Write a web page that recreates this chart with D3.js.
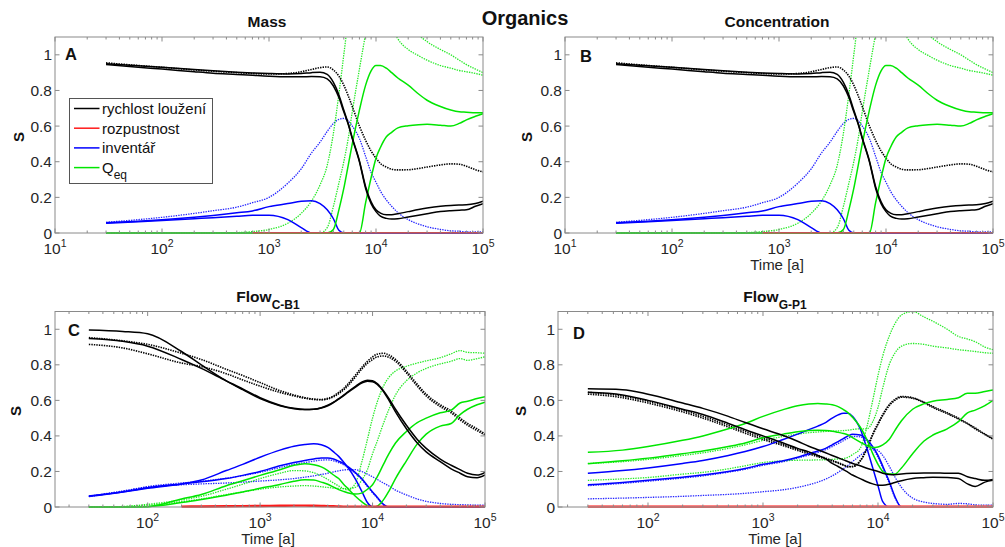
<!DOCTYPE html>
<html lang="cs">
<head>
<meta charset="utf-8">
<title>Organics</title>
<script src="https://cdn.jsdelivr.net/npm/d3@7"></script>
<style>
  body { margin: 0; background: #fff; }
  svg { font-family: "Liberation Sans", Arial, sans-serif; }
</style>
</head>
<body>
<svg id="chart" width="1005" height="547"></svg>
<script>
// time axis shared by every series [a]
const years = [30, 60, 100, 200, 300, 500, 700, 1000, 1500, 2000,
  2500, 3000, 3500, 4000, 4500, 5000, 5500, 6000, 7000, 8000,
  9000, 10000, 11000, 12500, 14000, 16000, 20000, 25000, 30000, 40000,
  50000, 60000, 70000, 85000, 100000];

const yTicks = [0, 0.2, 0.4, 0.6, 0.8, 1];
const yTickLabels = ["0", "0.2", "0.4", "0.6", "0.8", "1"];
const legendNames = ["rychlost loužení", "rozpustnost", "inventář", "Q"];

// --- Mass / Concentration (A, B) ---
const massBlackSolid1 = [0.945, 0.93, 0.92, 0.905, 0.897, 0.89, 0.885, 0.88, 0.877, 0.877,
  0.878, 0.877, 0.865, 0.825, 0.76, 0.68, 0.61, 0.53, 0.40, 0.25,
  0.165, 0.12, 0.095, 0.082, 0.078, 0.08, 0.09, 0.10, 0.108, 0.12,
  0.125, 0.128, 0.13, 0.15, 0.165];
const massBlackSolid2 = [0.95, 0.938, 0.93, 0.917, 0.91, 0.902, 0.898, 0.895, 0.893, 0.895,
  0.9, 0.902, 0.89, 0.845, 0.775, 0.69, 0.615, 0.535, 0.405, 0.26,
  0.175, 0.13, 0.112, 0.103, 0.103, 0.108, 0.12, 0.132, 0.14, 0.15,
  0.155, 0.157, 0.158, 0.165, 0.178];
const massBlackDotted = [0.955, 0.94, 0.93, 0.915, 0.908, 0.9, 0.895, 0.892, 0.895, 0.905,
  0.918, 0.928, 0.932, 0.915, 0.88, 0.83, 0.77, 0.71, 0.6, 0.52,
  0.46, 0.42, 0.39, 0.37, 0.358, 0.354, 0.355, 0.362, 0.37, 0.382,
  0.388, 0.386, 0.375, 0.355, 0.343];
const massBlueSolid1 = [0.058, 0.066, 0.074, 0.088, 0.098, 0.113, 0.124, 0.148, 0.165, 0.178,
  0.181, 0.165, 0.13, 0.08, 0.015, 0, 0, 0, 0, 0,
  0, 0, 0, 0, 0, 0, 0, 0, 0, 0,
  0, 0, 0, 0, 0];
const massBlueSolid2 = [0.055, 0.063, 0.07, 0.08, 0.086, 0.094, 0.099, 0.1, 0.075, 0.03,
  0, 0, 0, 0, 0, 0, 0, 0, 0, 0,
  0, 0, 0, 0, 0, 0, 0, 0, 0, 0,
  0, 0, 0, 0, 0];
const massBlueDotted = [0.06, 0.075, 0.088, 0.11, 0.125, 0.145, 0.17, 0.2, 0.28, 0.36,
  0.45, 0.51, 0.57, 0.615, 0.638, 0.643, 0.63, 0.6, 0.53, 0.43,
  0.34, 0.285, 0.235, 0.185, 0.15, 0.115, 0.075, 0.05, 0.035, 0.02,
  0.012, 0.01, 0.006, 0.006, 0.006];
const massGreenSolid1 = [0, 0, 0, 0, 0, 0, 0, 0, 0, 0,
  0, 0, 0, 0.02, 0.13, 0.25, 0.38, 0.5, 0.69, 0.83,
  0.91, 0.94, 0.94, 0.925, 0.9, 0.87, 0.83, 0.78, 0.745, 0.71,
  0.69, 0.68, 0.678, 0.675, 0.675];
const massGreenSolid2 = [0, 0, 0, 0, 0, 0, 0, 0, 0, 0,
  0, 0, 0, 0, 0, 0, 0, 0, 0, 0.17,
  0.31, 0.42, 0.48, 0.54, 0.565, 0.59, 0.602, 0.608, 0.61, 0.605,
  0.6, 0.615, 0.635, 0.655, 0.67];
const massGreenDotted1 = [0, 0, 0, 0, 0, 0.002, 0.008, 0.02, 0.055, 0.11,
  0.18, 0.27, 0.38, 0.56, 0.78, 1.0, 1.2, 1.35, 1.5, 1.5,
  1.5, 1.5, 1.5, 1.5, 1.16, 1.09, 1.03, 0.995, 0.97, 0.94,
  0.925, 0.912, 0.905, 0.895, 0.886];
const massGreenDotted2 = [0, 0, 0, 0, 0, 0, 0, 0, 0, 0,
  0, 0, 0.03, 0.15, 0.28, 0.40, 0.53, 0.68, 0.92, 1.12,
  1.3, 1.5, 1.5, 1.5, 1.5, 1.5, 1.35, 1.12, 1.075, 1.03,
  1.0, 0.97, 0.945, 0.92, 0.9];
const massRed = [null, null, null, null, null, null, 0.002, 0.002, 0.002, 0.002,
  0.002, 0.002, 0.002, 0.002, 0.002, 0.002, 0.002, 0.002, 0.002, 0.002,
  0.002, 0.002, 0.002, 0.002, 0.002, 0.002, 0.002, 0.002, 0.002, 0.002,
  0.002, 0.002, 0.002, 0.002, 0.002];

// --- Flow C-B1 (C) ---
const flowCBlackSolid1 = [0.996, 0.988, 0.975, 0.875, 0.80, 0.71, 0.66, 0.61, 0.57, 0.553,
  0.548, 0.55, 0.558, 0.573, 0.59, 0.61, 0.628, 0.647, 0.678, 0.702,
  0.713, 0.71, 0.695, 0.655, 0.61, 0.55, 0.46, 0.38, 0.33, 0.27,
  0.235, 0.21, 0.19, 0.18, 0.195];
const flowCBlackSolid2 = [0.948, 0.932, 0.905, 0.83, 0.78, 0.71, 0.665, 0.615, 0.573, 0.555,
  0.549, 0.55, 0.557, 0.57, 0.588, 0.607, 0.625, 0.643, 0.673, 0.697,
  0.708, 0.705, 0.69, 0.65, 0.6, 0.535, 0.44, 0.36, 0.31, 0.255,
  0.215, 0.19, 0.17, 0.165, 0.18];
const flowCBlackDotted1 = [0.953, 0.935, 0.915, 0.865, 0.83, 0.775, 0.74, 0.70, 0.655, 0.63,
  0.615, 0.607, 0.605, 0.612, 0.625, 0.645, 0.665, 0.69, 0.74, 0.785,
  0.82, 0.845, 0.86, 0.865, 0.855, 0.83, 0.765, 0.69, 0.635, 0.575,
  0.54, 0.5, 0.47, 0.44, 0.41];
const flowCBlackDotted2 = [0.915, 0.895, 0.862, 0.81, 0.79, 0.75, 0.715, 0.68, 0.645, 0.625,
  0.612, 0.605, 0.603, 0.608, 0.62, 0.638, 0.658, 0.68, 0.73, 0.775,
  0.808, 0.83, 0.845, 0.85, 0.842, 0.82, 0.755, 0.68, 0.625, 0.565,
  0.53, 0.49, 0.46, 0.43, 0.405];
const flowCBlueSolid1 = [0.062, 0.085, 0.105, 0.13, 0.152, 0.205, 0.24, 0.28, 0.32, 0.342,
  0.352, 0.356, 0.35, 0.335, 0.31, 0.285, 0.255, 0.225, 0.16, 0.09,
  0.025, 0, 0, 0, 0, 0, 0, 0, 0, 0,
  0, 0, 0, 0, 0];
const flowCBlueSolid2 = [0.06, 0.085, 0.108, 0.13, 0.142, 0.16, 0.178, 0.2, 0.232, 0.25,
  0.262, 0.27, 0.276, 0.276, 0.27, 0.258, 0.245, 0.228, 0.195, 0.16,
  0.12, 0.085, 0.055, 0.015, 0, 0, 0, 0, 0, 0,
  0, 0, 0, 0, 0];
const flowCBlueDotted1 = [0.058, 0.088, 0.115, 0.135, 0.145, 0.162, 0.176, 0.195, 0.222, 0.24,
  0.25, 0.258, 0.264, 0.265, 0.26, 0.25, 0.238, 0.222, 0.19, 0.155,
  0.115, 0.08, 0.05, 0.012, 0, 0, 0, 0, 0, 0,
  0, 0, 0, 0, 0];
const flowCBlueDotted2 = [0.06, 0.09, 0.112, 0.125, 0.13, 0.135, 0.14, 0.146, 0.153, 0.16,
  0.168, 0.175, 0.183, 0.19, 0.198, 0.204, 0.208, 0.21, 0.21, 0.2,
  0.185, 0.17, 0.155, 0.135, 0.118, 0.095, 0.068, 0.045, 0.032, 0.02,
  0.015, 0.013, 0.012, 0.01, 0.01];
const flowCGreenSolid1 = [0, 0, 0.002, 0.045, 0.07, 0.12, 0.148, 0.178, 0.21, 0.235,
  0.244, 0.238, 0.226, 0.205, 0.18, 0.16, 0.13, 0.105, 0.062, 0.03,
  0.008, 0, 0.005, 0.04, 0.09, 0.16, 0.26, 0.355, 0.41, 0.455,
  0.47, 0.52, 0.55, 0.575, 0.59];
const flowCGreenSolid2 = [0, 0, 0.002, 0.025, 0.042, 0.066, 0.085, 0.105, 0.127, 0.145,
  0.153, 0.152, 0.14, 0.128, 0.112, 0.098, 0.088, 0.08, 0.073, 0.078,
  0.1, 0.125, 0.17, 0.24, 0.3, 0.36, 0.425, 0.475, 0.5, 0.53,
  0.545, 0.585, 0.595, 0.61, 0.62];
const flowCGreenDotted1 = [0, 0.003, 0.015, 0.04, 0.06, 0.1, 0.128, 0.16, 0.19, 0.205,
  0.203, 0.193, 0.175, 0.155, 0.135, 0.118, 0.104, 0.096, 0.13, 0.25,
  0.38, 0.5, 0.59, 0.68, 0.73, 0.765, 0.792, 0.81, 0.822, 0.84,
  0.862, 0.88, 0.87, 0.868, 0.865];
const flowCGreenDotted2 = [0, 0.002, 0.01, 0.03, 0.045, 0.07, 0.085, 0.1, 0.113, 0.118,
  0.12, 0.118, 0.114, 0.11, 0.106, 0.104, 0.103, 0.104, 0.11, 0.15,
  0.21, 0.3, 0.37, 0.47, 0.55, 0.63, 0.71, 0.755, 0.78, 0.805,
  0.82, 0.835, 0.825, 0.835, 0.845];
const flowCRed = [null, null, null, 0.002, 0.003, 0.004, 0.005, 0.006, 0.007, 0.008,
  0.008, 0.007, 0.006, 0.005, 0.004, 0.003, 0.002, 0.002, 0.002, 0.002,
  0.002, 0.002, 0.002, 0.002, 0.002, 0.002, 0.002, 0.002, 0.002, 0.002,
  0.002, 0.002, 0.002, 0.002, 0.002];

// --- Flow G-P1 (D) ---
const flowGBlackSolid1 = [0.665, 0.66, 0.635, 0.585, 0.555, 0.51, 0.475, 0.44, 0.402, 0.37,
  0.342, 0.322, 0.305, 0.29, 0.277, 0.265, 0.255, 0.245, 0.232, 0.218,
  0.208, 0.2, 0.19, 0.183, 0.182, 0.186, 0.19, 0.192, 0.192, 0.19,
  0.19, 0.17, 0.16, 0.15, 0.155];
const flowGBlackSolid2 = [0.645, 0.63, 0.6, 0.55, 0.52, 0.47, 0.435, 0.4, 0.36, 0.33,
  0.31, 0.29, 0.272, 0.245, 0.228, 0.21, 0.195, 0.18, 0.16, 0.142,
  0.13, 0.123, 0.122, 0.128, 0.138, 0.148, 0.16, 0.165, 0.168, 0.166,
  0.16, 0.13, 0.115, 0.14, 0.15];
const flowGBlackDotted1 = [0.645, 0.625, 0.595, 0.545, 0.51, 0.46, 0.425, 0.39, 0.352, 0.325,
  0.305, 0.29, 0.275, 0.262, 0.25, 0.238, 0.228, 0.228, 0.26, 0.33,
  0.41, 0.47, 0.52, 0.575, 0.605, 0.622, 0.615, 0.59, 0.565, 0.53,
  0.5, 0.47, 0.445, 0.41, 0.385];
const flowGBlackDotted2 = [0.635, 0.615, 0.585, 0.535, 0.5, 0.45, 0.415, 0.38, 0.345, 0.318,
  0.298, 0.283, 0.27, 0.258, 0.247, 0.235, 0.226, 0.227, 0.258, 0.325,
  0.405, 0.465, 0.515, 0.57, 0.6, 0.618, 0.612, 0.588, 0.56, 0.525,
  0.495, 0.468, 0.44, 0.408, 0.382];
const flowGBlueSolid1 = [0.19, 0.205, 0.22, 0.245, 0.262, 0.29, 0.312, 0.34, 0.38, 0.41,
  0.435, 0.455, 0.475, 0.5, 0.518, 0.528, 0.528, 0.51, 0.44, 0.33,
  0.22, 0.12, 0.03, 0, 0, 0, 0, 0, 0, 0,
  0, 0, 0, 0, 0];
const flowGBlueSolid2 = [0.125, 0.138, 0.15, 0.168, 0.18, 0.2, 0.217, 0.24, 0.26, 0.28,
  0.3, 0.315, 0.33, 0.35, 0.368, 0.385, 0.4, 0.41, 0.405, 0.38,
  0.34, 0.29, 0.23, 0.145, 0.06, 0, 0, 0, 0, 0,
  0, 0, 0, 0, 0];
const flowGBlueDotted1 = [0.12, 0.133, 0.145, 0.163, 0.175, 0.196, 0.212, 0.235, 0.255, 0.275,
  0.292, 0.307, 0.322, 0.34, 0.357, 0.373, 0.387, 0.397, 0.395, 0.37,
  0.33, 0.28, 0.22, 0.135, 0.055, 0, 0, 0, 0, 0,
  0, 0, 0, 0, 0];
const flowGBlueDotted2 = [0.046, 0.05, 0.054, 0.06, 0.065, 0.071, 0.077, 0.086, 0.097, 0.11,
  0.125, 0.14, 0.157, 0.175, 0.195, 0.215, 0.235, 0.255, 0.29, 0.318,
  0.328, 0.318, 0.29, 0.23, 0.17, 0.11, 0.05, 0.028, 0.02, 0.015,
  0.02, 0.018, 0.012, 0.01, 0.01];
const flowGGreenSolid1 = [0.308, 0.32, 0.34, 0.375, 0.4, 0.44, 0.47, 0.51, 0.548, 0.57,
  0.58, 0.583, 0.58, 0.575, 0.565, 0.548, 0.53, 0.505, 0.45, 0.38,
  0.3, 0.24, 0.2, 0.185, 0.185, 0.22, 0.3, 0.37, 0.405, 0.44,
  0.48, 0.53, 0.545, 0.57, 0.6];
const flowGGreenSolid2 = [0.243, 0.26, 0.275, 0.3, 0.315, 0.34, 0.36, 0.39, 0.41, 0.423,
  0.43, 0.432, 0.43, 0.426, 0.42, 0.414, 0.405, 0.39, 0.365, 0.345,
  0.335, 0.338, 0.35, 0.38, 0.43, 0.485, 0.55, 0.58, 0.595, 0.605,
  0.615, 0.64, 0.64, 0.65, 0.658];
const flowGGreenDotted1 = [0.15, 0.158, 0.166, 0.185, 0.195, 0.215, 0.232, 0.25, 0.26, 0.263,
  0.264, 0.265, 0.266, 0.268, 0.27, 0.273, 0.28, 0.295, 0.33, 0.45,
  0.6, 0.74, 0.85, 0.96, 1.03, 1.08, 1.1, 1.07, 1.045, 1.0,
  0.96, 0.945, 0.93, 0.9, 0.885];
const flowGGreenDotted2 = [0.245, 0.255, 0.268, 0.29, 0.305, 0.33, 0.35, 0.375, 0.397, 0.41,
  0.418, 0.422, 0.425, 0.427, 0.428, 0.43, 0.432, 0.436, 0.44, 0.44,
  0.48, 0.56, 0.67, 0.8, 0.865, 0.905, 0.92, 0.915, 0.905, 0.895,
  0.885, 0.88, 0.875, 0.868, 0.865];
const flowGRed = [0.002, 0.002, 0.002, 0.002, 0.002, 0.002, 0.002, 0.002, 0.002, 0.002,
  0.002, 0.002, 0.002, 0.002, 0.002, 0.002, 0.002, 0.002, 0.002, 0.002,
  0.002, 0.002, 0.002, 0.002, 0.002, 0.002, 0.002, 0.002, 0.002, 0.002,
  0.002, 0.002, 0.002, 0.002, 0.002];

const colors = { black: "#000000", red: "#ff1a1a", blue: "#0000ff", green: "#00e600" };

const massSeries = [
  { v: massBlueDotted, c: "blue", dot: true },
  { v: massGreenDotted1, c: "green", dot: true },
  { v: massGreenDotted2, c: "green", dot: true },
  { v: massBlackDotted, c: "black", dot: true },
  { v: massBlueSolid1, c: "blue" },
  { v: massBlueSolid2, c: "blue" },
  { v: massGreenSolid1, c: "green" },
  { v: massGreenSolid2, c: "green" },
  { v: massBlackSolid1, c: "black" },
  { v: massBlackSolid2, c: "black" },
  { v: massRed, c: "red" }
];

const panels = [
  { letter: "A", title: "Mass", sub: "", cx: 267, left: 55, right: 483, top: 37, bottom: 233,
    xmin: 10, timeLabel: false, sx: 18, sy: 137, lx: 10, ly: 23, series: massSeries },
  { letter: "B", title: "Concentration", sub: "", cx: 777, left: 565, right: 993, top: 37, bottom: 233,
    xmin: 10, timeLabel: true, sx: 526, sy: 137, lx: 15, ly: 25, series: massSeries },
  { letter: "C", title: "Flow", sub: "C-B1", cx: 268, left: 55, right: 485, top: 311.5, bottom: 507,
    xmin: 15, timeLabel: true, sx: 15, sy: 411, lx: 13, ly: 24, series: [
      { v: flowCBlueDotted1, c: "blue", dot: true },
      { v: flowCBlueDotted2, c: "blue", dot: true },
      { v: flowCGreenDotted1, c: "green", dot: true },
      { v: flowCGreenDotted2, c: "green", dot: true },
      { v: flowCBlackDotted1, c: "black", dot: true },
      { v: flowCBlackDotted2, c: "black", dot: true },
      { v: flowCBlueSolid1, c: "blue" },
      { v: flowCBlueSolid2, c: "blue" },
      { v: flowCGreenSolid1, c: "green" },
      { v: flowCGreenSolid2, c: "green" },
      { v: flowCBlackSolid1, c: "black" },
      { v: flowCBlackSolid2, c: "black" },
      { v: flowCRed, c: "red", w: 2.4 }
    ] },
  { letter: "D", title: "Flow", sub: "G-P1", cx: 775, left: 558, right: 993, top: 311.5, bottom: 507,
    xmin: 16.5, timeLabel: true, sx: 520, sy: 411, lx: 15, ly: 27, series: [
      { v: flowGBlueDotted1, c: "blue", dot: true },
      { v: flowGBlueDotted2, c: "blue", dot: true },
      { v: flowGGreenDotted1, c: "green", dot: true },
      { v: flowGGreenDotted2, c: "green", dot: true },
      { v: flowGBlackDotted1, c: "black", dot: true },
      { v: flowGBlackDotted2, c: "black", dot: true },
      { v: flowGBlueSolid1, c: "blue" },
      { v: flowGBlueSolid2, c: "blue" },
      { v: flowGGreenSolid1, c: "green" },
      { v: flowGGreenSolid2, c: "green" },
      { v: flowGBlackSolid1, c: "black" },
      { v: flowGBlackSolid2, c: "black" },
      { v: flowGRed, c: "#ff5a5a", w: 3 }
    ] }
];

const svg = d3.select("#chart");
const defs = svg.append("defs");
const boxColor = "#8a8a8a";
const textColor = "#262626";

function drawPanel(p) {
  const x = d3.scaleLog().domain([p.xmin, 1e5]).range([p.left, p.right]);
  const y = d3.scaleLinear().domain([0, 1.1]).range([p.bottom, p.top]);
  const g = svg.append("g");

  defs.append("clipPath").attr("id", "clip" + p.letter)
    .append("rect")
    .attr("x", p.left).attr("y", p.top)
    .attr("width", p.right - p.left).attr("height", p.bottom - p.top + 1);

  const line = d3.line()
    .defined(d => d[1] != null)
    .x(d => x(d[0]))
    .y(d => y(d[1]))
    .curve(d3.curveMonotoneX);

  const plot = g.append("g").attr("clip-path", "url(#clip" + p.letter + ")");
  p.series.forEach(s => {
    const col = colors[s.c] || s.c;
    plot.append("path")
      .attr("d", line(years.map((t, i) => [t, s.v[i]])))
      .attr("fill", "none")
      .attr("stroke", col)
      .attr("stroke-width", s.w || (s.dot ? (s.c === "black" ? 1.6 : 1.3) : 1.5))
      .attr("stroke-dasharray", s.dot ? "1.4,1.1" : null)
      .attr("stroke-opacity", s.dot && s.c !== "black" ? 0.85 : 1)
      .attr("stroke-linejoin", "round");
  });

  // box
  g.append("rect")
    .attr("x", p.left).attr("y", p.top)
    .attr("width", p.right - p.left).attr("height", p.bottom - p.top)
    .attr("fill", "none").attr("stroke", boxColor).attr("stroke-width", 1);

  // x ticks (inside, top and bottom)
  const lo = Math.floor(Math.log10(p.xmin));
  const majors = [];
  const minors = [];
  for (let e = lo; e <= 5; e++) {
    const d = Math.pow(10, e);
    if (d >= p.xmin - 1e-9) majors.push(d);
    if (e < 5) for (let k = 2; k <= 9; k++) if (k * d > p.xmin) minors.push(k * d);
  }
  const tickG = g.append("g").attr("stroke", boxColor).attr("stroke-width", 1);
  majors.forEach(v => {
    const px = x(v);
    tickG.append("line").attr("x1", px).attr("x2", px).attr("y1", p.bottom).attr("y2", p.bottom - 4.5);
    tickG.append("line").attr("x1", px).attr("x2", px).attr("y1", p.top).attr("y2", p.top + 4.5);
  });
  minors.forEach(v => {
    const px = x(v);
    tickG.append("line").attr("x1", px).attr("x2", px).attr("y1", p.bottom).attr("y2", p.bottom - 2.5);
    tickG.append("line").attr("x1", px).attr("x2", px).attr("y1", p.top).attr("y2", p.top + 2.5);
  });
  yTicks.forEach(v => {
    const py = y(v);
    tickG.append("line").attr("x1", p.left).attr("x2", p.left + 4.5).attr("y1", py).attr("y2", py);
    tickG.append("line").attr("x1", p.right).attr("x2", p.right - 4.5).attr("y1", py).attr("y2", py);
  });

  // x tick labels 10^n
  majors.forEach(v => {
    const t = g.append("text")
      .attr("x", x(v)).attr("y", p.bottom + 20.5)
      .attr("text-anchor", "middle")
      .attr("font-size", 15.5).attr("fill", textColor);
    t.append("tspan").text("10");
    t.append("tspan").attr("dy", -7).attr("font-size", 10.5).text(String(Math.round(Math.log10(v))));
  });

  // y tick labels
  yTicks.forEach((v, i) => {
    g.append("text")
      .attr("x", p.left - 3).attr("y", y(v) + 5.5)
      .attr("text-anchor", "end")
      .attr("font-size", 15.5).attr("fill", textColor)
      .text(yTickLabels[i]);
  });

  // y label
  g.append("text")
    .attr("transform", "translate(" + (p.sx + 5.5) + "," + p.sy + ") rotate(-90)")
    .attr("text-anchor", "middle")
    .attr("font-size", 15).attr("font-weight", "bold").attr("fill", "#111")
    .text("S");

  // x label
  if (p.timeLabel) {
    g.append("text")
      .attr("x", p.cx).attr("y", p.bottom + 36.5)
      .attr("text-anchor", "middle")
      .attr("font-size", 15).attr("fill", textColor)
      .text("Time [a]");
  }

  // title
  const tt = g.append("text")
    .attr("x", p.cx).attr("y", p.top - 10)
    .attr("text-anchor", "middle")
    .attr("font-size", 15.5).attr("font-weight", "bold").attr("fill", "#111");
  tt.append("tspan").text(p.title);
  if (p.sub) tt.append("tspan").attr("dy", 7.5).attr("font-size", 12).text(p.sub);

  // panel letter
  g.append("text")
    .attr("x", p.left + p.lx).attr("y", p.top + p.ly)
    .attr("font-size", 16.5).attr("font-weight", "bold").attr("fill", "#111")
    .text(p.letter);

  return { x, y };
}

panels.forEach(drawPanel);

// overall title
svg.append("text")
  .attr("x", 525).attr("y", 25)
  .attr("text-anchor", "middle")
  .attr("font-size", 20).attr("font-weight", "bold").attr("fill", "#111")
  .text("Organics");

// legend in panel A
const legendColors = [colors.black, colors.red, colors.blue, colors.green];
const leg = svg.append("g");
leg.append("rect")
  .attr("x", 69.5).attr("y", 98.5).attr("width", 143).attr("height", 85)
  .attr("fill", "#fff").attr("stroke", "#555").attr("stroke-width", 1);
legendNames.forEach((name, i) => {
  const cy = 108.5 + i * 19.7;
  leg.append("line")
    .attr("x1", 74).attr("x2", 99.5).attr("y1", cy).attr("y2", cy)
    .attr("stroke", legendColors[i]).attr("stroke-width", 1.5);
  const t = leg.append("text")
    .attr("x", 102).attr("y", cy + 5.5)
    .attr("font-size", 15).attr("fill", "#111");
  t.append("tspan").text(name);
  if (i === 3) t.append("tspan").attr("dy", 6).attr("font-size", 12).text("eq");
});
</script>
</body>
</html>
